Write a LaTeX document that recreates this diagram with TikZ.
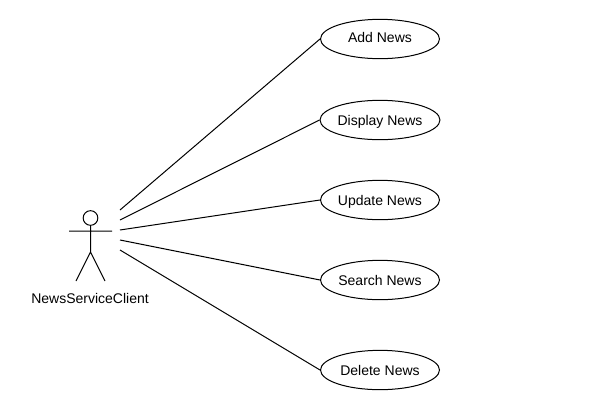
\documentclass[tikz,border=0pt]{standalone}
\usepackage{fontspec}
\setmainfont{Liberation Sans}
\usetikzlibrary{shapes.geometric}
\tikzset{
 px/.style={x=0.75pt,y=-0.75pt},
 usecase/.style={draw,ellipse,line width=0.75pt,minimum width=89.25pt,minimum height=29.5pt,inner sep=0pt,text height=7.5pt,text depth=0pt,font=\fontsize{10.5}{12}\selectfont},
 actorline/.style={line width=0.75pt},
 assoc/.style={line width=0.75pt},
 lbl/.style={font=\fontsize{10.5}{12}\selectfont,inner sep=0pt}
}
\begin{document}
\begin{tikzpicture}[px]
\useasboundingbox[fill=white] (0,0) rectangle (590,408);
\node[usecase] (add) at (380,39) {\raisebox{1.1pt}{Add News}};
\node[usecase] (display) at (380,120) {Display News};
\node[usecase] (update) at (380,200) {Update News};
\node[usecase] (search) at (380,280) {Search News};
\node[usecase] (delete) at (380,370) {Delete News};
\node[draw,circle,line width=0.75pt,minimum size=11pt,inner sep=0pt] (head) at (90.5,218) {};
\coordinate (hip) at (90.5,252);
\coordinate (armL) at (69,231);
\coordinate (armR) at (112,231);
\coordinate (footL) at (76,281);
\coordinate (footR) at (105,281);
\draw[actorline] (head.south) -- (hip) (armL) -- (armR) (hip) -- (footL) (hip) -- (footR);
\node[lbl] (client) at (90,298.5) {NewsServiceClient};
\coordinate (a1) at (120,210);
\coordinate (a2) at (120,220);
\coordinate (a3) at (120,230);
\coordinate (a4) at (120,240);
\coordinate (a5) at (120,250);
\draw[assoc] (a1) -- (add.west);
\draw[assoc] (a2) -- (display.west);
\draw[assoc] (a3) -- (update.west);
\draw[assoc] (a4) -- (search.west);
\draw[assoc] (a5) -- (delete.west);
\end{tikzpicture}
\end{document}
